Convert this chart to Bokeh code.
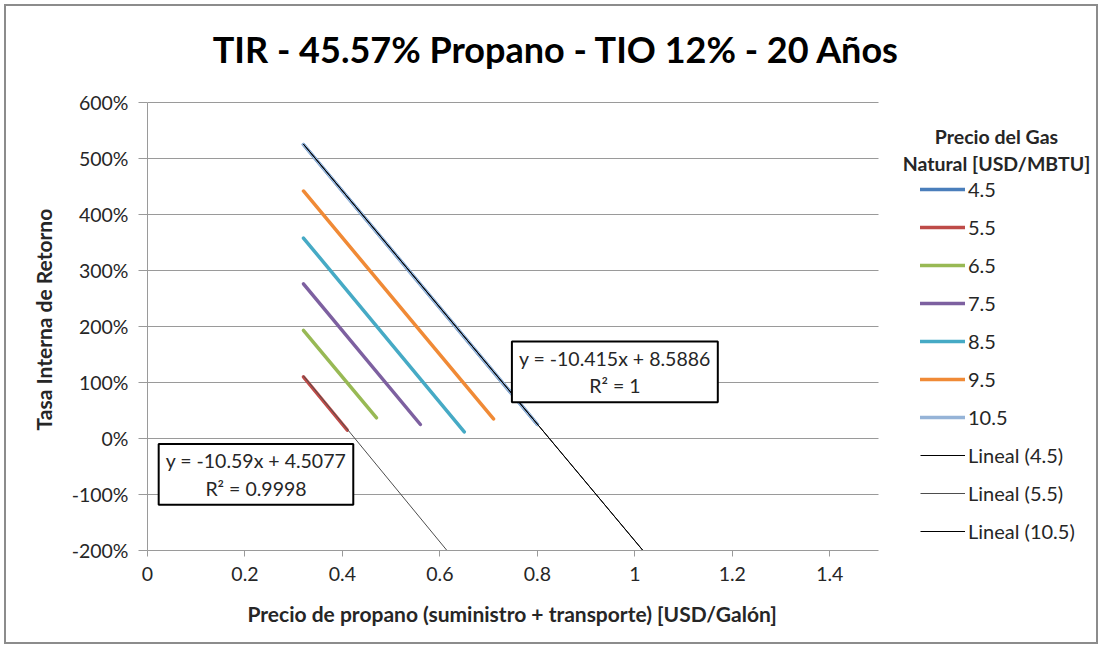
from bokeh.plotting import figure
from bokeh.models import Label, Legend, LegendItem, FixedTicker, NumeralTickFormatter, Range1d, Title
from bokeh.embed import file_html
from bokeh.resources import INLINE

# ---------------- data ----------------
gas_prices = ["4.5", "5.5", "6.5", "7.5", "8.5", "9.5", "10.5"]
series_colors = ["#4A7EBB", "#BE4B48", "#98B954", "#7D60A0", "#46AAC5", "#F08A36", "#95B3D7"]

propane_45 = [0.32, 0.80]
tir_45 = [5.25, 0.25]
propane_55 = [0.32, 0.41]
tir_55 = [1.10, 0.15]
propane_65 = [0.32, 0.47]
tir_65 = [1.93, 0.37]
propane_75 = [0.32, 0.56]
tir_75 = [2.76, 0.25]
propane_85 = [0.32, 0.65]
tir_85 = [3.58, 0.12]
propane_95 = [0.32, 0.71]
tir_95 = [4.42, 0.35]
propane_105 = [0.32, 0.80]
tir_105 = [5.25, 0.25]

series_x = [propane_45, propane_55, propane_65, propane_75, propane_85, propane_95, propane_105]
series_y = [tir_45, tir_55, tir_65, tir_75, tir_85, tir_95, tir_105]

trend_names = ["Lineal (4.5)", "Lineal (5.5)", "Lineal (10.5)"]
trend_slopes = [-10.415, -10.59, -10.415]
trend_intercepts = [8.5886, 4.5077, 8.5886]
trend_x_range = [(0.32, 1.10), (0.32, 0.70), (0.32, 1.10)]
trend_colors = ["#000000", "#4d4d4d", "#000000"]

eq_texts = ["y = -10.415x + 8.5886\nR² = 1", "y = -10.59x + 4.5077\nR² = 0.9998"]
eq_pos_x = [0.959, 0.2226]
eq_pos_y = [1.19, -0.64]

x_ticks = [0, 0.2, 0.4, 0.6, 0.8, 1.0, 1.2, 1.4]
y_ticks = [-2, -1, 0, 1, 2, 3, 4, 5, 6]
x_axis_max = 1.5
y_axis_min, y_axis_max = -2, 6

title_text = "TIR - 45.57% Propano - TIO 12% - 20 Años"
x_title = "Precio de propano (suministro + transporte) [USD/Galón]"
y_title = "Tasa Interna de Retorno"
legend_title_lines = ["Precio del Gas", "Natural [USD/MBTU]"]

# ---------------- layout (pixels) ----------------
ORIGIN = 6            # canvas offset inside page (margin + border)
W, H = 1094, 640      # canvas size
FRAME_L, FRAME_R_AXIS, FRAME_T_AXIS, FRAME_B = 147, 878, 102, 550
canvas_r = ORIGIN + W
canvas_b = ORIGIN + H
frame_w = canvas_r - FRAME_L
frame_h = FRAME_B - ORIGIN
x_end = x_axis_max * frame_w / (FRAME_R_AXIS - FRAME_L)
y_end = y_axis_min + (y_axis_max - y_axis_min) * frame_h / (FRAME_B - FRAME_T_AXIS)

FONT = "Lato"
TXT = "#262626"
GRID = "#9a9a9a"

p = figure(width=W, height=H, output_backend="svg", toolbar_location=None,
           x_range=Range1d(0, x_end), y_range=Range1d(y_axis_min, y_end),
           min_border_left=FRAME_L - ORIGIN, min_border_right=0, min_border_top=0,
           min_border_bottom=canvas_b - FRAME_B)
p.title.visible = False
p.styles = {"border": "2px solid #8c8c8c", "margin": "4px"}
p.outline_line_color = None
p.background_fill_color = "white"
p.border_fill_color = "white"

p.xgrid.visible = False
p.ygrid.ticker = FixedTicker(ticks=y_ticks)
p.ygrid.grid_line_color = GRID
p.ygrid.grid_line_width = 1
p.ygrid.bounds = (y_axis_min, y_axis_max)
p.ygrid.cross_bounds = (0, x_axis_max)

for ax in (p.xaxis[0], p.yaxis[0]):
    ax.axis_line_color = GRID
    ax.major_tick_line_color = GRID
    ax.minor_tick_line_color = None
    ax.major_tick_in = 0
    ax.major_label_text_font = FONT
    ax.major_label_text_font_size = "19.5px"
    ax.major_label_text_color = TXT

p.xaxis.ticker = FixedTicker(ticks=x_ticks)
p.xaxis.bounds = (0, x_axis_max)
p.xaxis.major_tick_out = 6
p.xaxis.major_label_standoff = 10

p.yaxis.ticker = FixedTicker(ticks=y_ticks)
p.yaxis.bounds = (y_axis_min, y_axis_max)
p.yaxis.formatter = NumeralTickFormatter(format="0%")
p.yaxis.major_tick_out = 9
p.yaxis.major_label_standoff = 10

# axis titles as side-panel titles (offset from the frame's start)
p.add_layout(Title(text=x_title, align="left", offset=100, standoff=30,
                   text_font=FONT, text_font_style="bold", text_font_size="21px",
                   text_color=TXT), "below")
p.add_layout(Title(text=y_title, align="left", offset=120, standoff=26,
                   text_font=FONT, text_font_style="bold", text_font_size="21px",
                   text_color=TXT), "left")

items = []
for name, xs, ys, c in zip(gas_prices, series_x, series_y, series_colors):
    r = p.line(xs, ys, line_color=c, line_width=3.5, line_cap="round")
    items.append(LegendItem(label=name, renderers=[r]))

for name, m, b, (x0, x1), c in zip(trend_names, trend_slopes, trend_intercepts, trend_x_range, trend_colors):
    xs = [x0, x1]
    ys = [m * x0 + b, m * x1 + b]
    r = p.line(xs, ys, line_color=c, line_width=1)
    items.append(LegendItem(label=name, renderers=[r]))

legend = Legend(items=items, location=(920 - FRAME_L, 7), orientation="vertical",
                glyph_width=45, glyph_height=24, label_height=24, spacing=14,
                label_standoff=3, padding=0, margin=0,
                label_text_font=FONT, label_text_font_size="20px", label_text_color=TXT,
                border_line_color=None, background_fill_alpha=0)
p.add_layout(legend, "center")

for t, ex, ey in zip(eq_texts, eq_pos_x, eq_pos_y):
    p.add_layout(Label(x=ex, y=ey, text=t, text_align="center", text_baseline="middle",
                       text_font=FONT, text_font_size="19.5px", text_color=TXT,
                       border_line_color="#000000", border_line_width=2,
                       background_fill_color="white",
                       padding=dict(left=7, right=7, top=5, bottom=5)))

p.add_layout(Label(x=556 - FRAME_L, y=FRAME_B - 48, x_units="screen", y_units="screen",
                   text=title_text, text_align="center", text_baseline="alphabetic",
                   text_font=FONT, text_font_style="bold", text_font_size="36px",
                   text_color="#000000"))

for line, base in zip(legend_title_lines, [136, 163]):
    p.add_layout(Label(x=996 - FRAME_L, y=FRAME_B - base, x_units="screen", y_units="screen",
                       text=line, text_align="center", text_baseline="alphabetic",
                       text_font=FONT, text_font_style="bold", text_font_size="19.5px",
                       text_color=TXT))

open("out.html", "w").write(file_html(p, INLINE))
